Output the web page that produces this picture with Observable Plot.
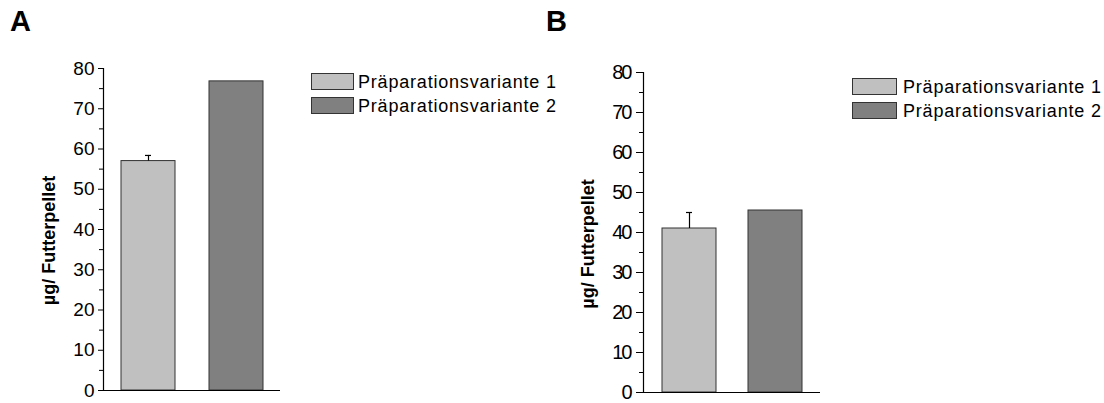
<!DOCTYPE html>
<html><head><meta charset="utf-8">
<script src="https://cdn.jsdelivr.net/npm/d3@7"></script>
<script src="https://cdn.jsdelivr.net/npm/@observablehq/plot@0.6"></script>
<style>
body{margin:0;background:#fff;font-family:"Liberation Sans",Arial,sans-serif;}
#wrap{position:relative;width:1104px;height:403px;overflow:hidden;background:#fff}
.panel{position:absolute;top:0}
.letter{position:absolute;font-weight:bold;font-size:29px;line-height:29px;color:#000}
.leg{position:absolute;font-size:18px;line-height:18px;letter-spacing:0.8px;white-space:nowrap;color:#000}
.sw{position:absolute;border:1px solid #333;box-sizing:border-box}
</style></head><body><div id="wrap"></div>
<script>
// ---- data ----
const categories = ["Präparationsvariante 1", "Präparationsvariante 2"];
const panelLabels = ["A", "B"];
const valuesA = [57.0, 76.8];
const errorsA = [1.4, 0];
const valuesB = [41.0, 45.5];
const errorsB = [4.0, 0];
const colors = ["#c0c0c0", "#808080"];
const yMajorTicks = [0, 10, 20, 30, 40, 50, 60, 70, 80];
const yMinorTicks = [5, 15, 25, 35, 45, 55, 65, 75];
const yLabel = "µg/ Futterpellet";

// ---- layout ----
const layouts = [
  {left: 0, marginLeft: 103, marginRight: 272, marginTop: 68, marginBottom: 13,
   paddingInner: 0.39, paddingOuter: 0.2, tickSize: 5, tickPadding: 4, tickSpacing: "0px", tickFont: 19,
   labelDx: -61, labelDy: 11, labelSpacing: "0px", labelFont: 18,
   letterLeft: 10, letterTop: 7,
   sw: {left: 311, w: 43, tops: [73, 97], h: 17}, txt: {left: 358, tops: [73, 96.5]}},
  {left: 552, marginLeft: 91, marginRight: 284, marginTop: 72, marginBottom: 11,
   paddingInner: 0.376, paddingOuter: 0.208, tickSize: 7, tickPadding: 6, tickSpacing: "-2px", tickFont: 20,
   labelDx: -62, labelDy: 11.5, labelSpacing: "0px", labelFont: 18,
   letterLeft: 546, letterTop: 7,
   sw: {left: 852, w: 45, tops: [78, 102], h: 17}, txt: {left: 903, tops: [77.5, 101.5]}}
];

const wrap = document.getElementById("wrap");

function makePanel(values, errors, L, idx) {
  const data = categories.map((c, i) => ({cat: c, value: values[i], err: errors[i], top: values[i] + errors[i], color: colors[i]}));
  const errData = data.filter(d => d.err > 0);
  const plot = Plot.plot({
    width: 552, height: 403,
    marginLeft: L.marginLeft, marginRight: L.marginRight, marginTop: L.marginTop, marginBottom: L.marginBottom,
    style: {fontFamily: "Liberation Sans, Arial, sans-serif", fontSize: "18px", color: "#000", background: "transparent", overflow: "visible"},
    x: {type: "band", domain: categories, paddingInner: L.paddingInner, paddingOuter: L.paddingOuter, axis: null},
    y: {domain: [0, 80], axis: null},
    marks: [
      Plot.barY(data, {x: "cat", y: "value", fill: "color", stroke: "#333", strokeWidth: 1}),
      Plot.ruleX(errData, {x: "cat", y1: "value", y2: "top", stroke: "#000", strokeWidth: 1.2}),
      Plot.tickY(errData, {x: "cat", y: "top", stroke: "#000", strokeWidth: 1.2, insetLeft: 24, insetRight: 24}),
      Plot.axisY({ticks: yMajorTicks, tickSize: L.tickSize, tickPadding: L.tickPadding, label: null, stroke: "#000", fontSize: L.tickFont}),
      Plot.axisY({ticks: yMinorTicks, tickSize: 4, text: null, label: null, stroke: "#000"}),
      Plot.frame({anchor: "left", stroke: "#000", strokeWidth: 1.2}),
      Plot.ruleY([0], {stroke: "#000", strokeWidth: 1.2}),
      Plot.text([yLabel], {text: d => d, frameAnchor: "left", rotate: -90, textAnchor: "middle", lineAnchor: "top",
        dx: L.labelDx, dy: L.labelDy, fontSize: L.labelFont, fontWeight: "bold", fill: "#000"})
    ]
  });
  plot.classList.add("panel");
  plot.style.left = L.left + "px";
  const tickTexts = new Set(yMajorTicks.map(String));
  plot.querySelectorAll("text").forEach(t => {
    const s = t.textContent.trim();
    if (s === yLabel) t.setAttribute("letter-spacing", L.labelSpacing);
    else if (tickTexts.has(s)) t.setAttribute("letter-spacing", L.tickSpacing);
  });
  wrap.appendChild(plot);

  const letter = document.createElement("div");
  letter.className = "letter";
  letter.textContent = panelLabels[idx];
  letter.style.left = L.letterLeft + "px";
  letter.style.top = L.letterTop + "px";
  wrap.appendChild(letter);

  categories.forEach((c, i) => {
    const s = document.createElement("div");
    s.className = "sw";
    s.style.left = L.sw.left + "px";
    s.style.top = L.sw.tops[i] + "px";
    s.style.width = L.sw.w + "px";
    s.style.height = L.sw.h + "px";
    s.style.background = colors[i];
    wrap.appendChild(s);
    const t = document.createElement("div");
    t.className = "leg";
    t.textContent = c;
    t.style.left = L.txt.left + "px";
    t.style.top = L.txt.tops[i] + "px";
    wrap.appendChild(t);
  });
}

makePanel(valuesA, errorsA, layouts[0], 0);
makePanel(valuesB, errorsB, layouts[1], 1);
</script></body></html>
